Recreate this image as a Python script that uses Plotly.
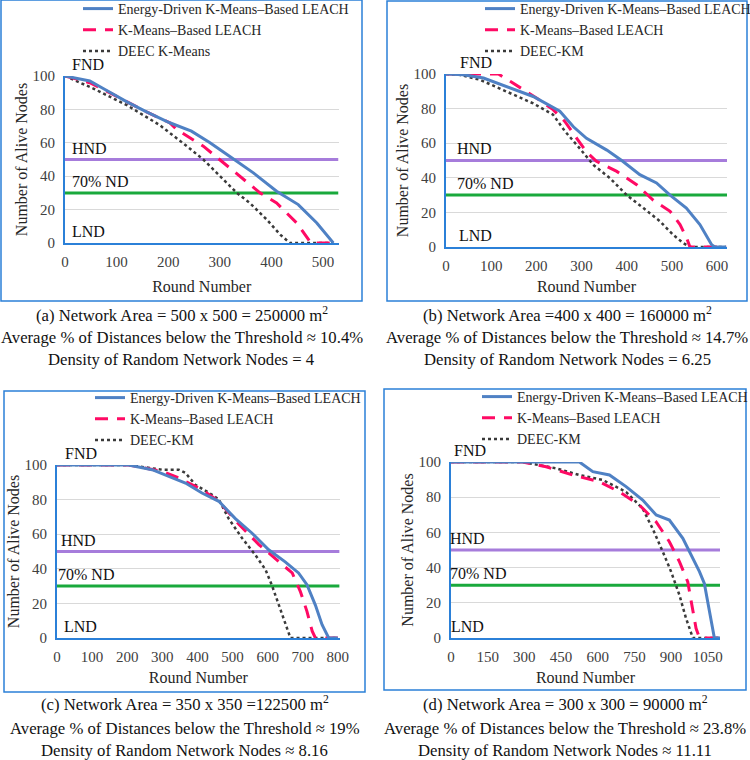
import plotly.graph_objects as go

# ---------------- data ----------------
SERIES_NAMES = ["Energy-Driven K-Means\u2013Based LEACH", "K-Means\u2013Based LEACH"]
DEEC_NAMES = ["DEEC K-Means", "DEEC-KM", "DEEC-KM", "DEEC-KM"]

A_ED_X = [0, 25, 48, 74, 120, 158, 203, 245, 281, 323, 365, 410, 452, 488, 520]
A_ED_Y = [100, 98.5, 97, 92.5, 84.5, 78.5, 72, 67, 60, 51, 42, 31, 23, 12, 0]
A_KM_X = [0, 25, 48, 74, 120, 158, 203, 216, 268, 300, 339, 378, 410, 449, 472, 476, 520]
A_KM_Y = [100, 98, 96, 92, 84.5, 78.5, 72, 68, 58, 50, 40, 30, 24, 12, 2, 0, 0]
A_DE_X = [0, 55, 120, 184, 236, 268, 294, 333, 358, 391, 417, 436, 520]
A_DE_Y = [100, 92.5, 82.5, 70.5, 58, 50, 42, 30, 24, 14, 5, 0, 0]

B_ED_X = [0, 38, 83, 134, 193, 252, 282, 311, 356, 389, 429, 466, 496, 532, 562, 588, 595, 620]
B_ED_Y = [100, 99.6, 97.7, 92.9, 87, 78.5, 69.5, 62.8, 56, 50, 41.8, 37, 30, 22.5, 13, 1.3, 0, 0]
B_KM_X = [0, 116, 142, 201, 237, 263, 289, 311, 333, 378, 422, 459, 496, 518, 533, 540, 620]
B_KM_Y = [100, 100, 95.8, 86, 79.4, 72.6, 63, 55, 49.5, 43.7, 36, 27, 20.6, 13, 5, 0, 0]
B_DE_X = [0, 30, 75, 134, 193, 237, 263, 296, 326, 363, 400, 437, 473, 503, 525, 540, 620]
B_DE_Y = [100, 99.5, 96.7, 90, 83, 76.5, 67, 57, 47.5, 39.8, 30, 22.5, 15, 7, 2.3, 0, 0]

C_ED_X = [0, 204, 271, 309, 366, 413, 461, 508, 555, 603, 650, 688, 712, 736, 755, 774, 800]
C_ED_Y = [100, 100, 97.3, 94.4, 89.6, 83.8, 79, 69, 60.7, 51, 44, 37.6, 30.8, 19, 7.7, 0, 0]
C_KM_X = [0, 204, 299, 347, 413, 461, 518, 575, 631, 670, 693, 712, 727, 736, 800]
C_KM_Y = [100, 100, 96.3, 92.5, 85.7, 79, 65.7, 54, 44.3, 37.6, 27, 15.4, 3.9, 0, 0]
C_DE_X = [0, 204, 299, 347, 366, 394, 442, 461, 489, 527, 565, 594, 613, 632, 651, 665, 800]
C_DE_Y = [100, 100, 97.3, 97.3, 95.4, 88.6, 82.8, 80, 69, 57.8, 48, 39.5, 30, 19.3, 7.7, 0, 0]

D_ED_X = [0, 525, 580, 648, 716, 784, 839, 893, 948, 982, 1016, 1036, 1050, 1064, 1077, 1100]
D_ED_Y = [100, 100, 94.5, 92.6, 86, 78.4, 69.9, 67, 56.6, 47, 37.7, 31, 20.6, 9.3, 0, 0]
D_KM_X = [0, 293, 389, 498, 607, 689, 770, 839, 893, 934, 968, 989, 1002, 1016, 1100]
D_KM_Y = [100, 100, 97.3, 92.6, 88.8, 83, 75.6, 66, 54.7, 43.4, 32, 16.9, 5.5, 0, 0]
D_DE_X = [0, 293, 430, 525, 620, 716, 784, 825, 866, 900, 934, 961, 989, 1100]
D_DE_Y = [100, 100, 96.4, 92.6, 89.8, 83, 73.5, 62, 49, 37.7, 24.4, 11.2, 0, 0]

X_MAX = [530, 622, 805, 1100]
X_TICKS = [[0, 100, 200, 300, 400, 500],
           [0, 100, 200, 300, 400, 500, 600],
           [0, 100, 200, 300, 400, 500, 600, 700, 800],
           [0, 150, 300, 450, 600, 750, 900, 1050]]
Y_TICKS = [0, 20, 40, 60, 80, 100]
HND_LEVEL = 50
ND70_LEVEL = 30

CAPTIONS = [
    ["(a) Network Area = 500 x 500 = 250000 m<sup>2</sup>",
     "Average % of Distances below the Threshold \u2248 10.4%",
     "Density of Random Network Nodes = 4"],
    ["(b) Network Area =400 x 400 = 160000 m<sup>2</sup>",
     "Average % of Distances below the Threshold \u2248 14.7%",
     "Density of Random Network Nodes = 6.25"],
    ["(c) Network Area = 350 x 350 =122500 m<sup>2</sup>",
     "Average % of Distances below the Threshold \u2248 19%",
     "Density of Random Network Nodes \u2248 8.16"],
    ["(d) Network Area = 300 x 300 = 90000 m<sup>2</sup>",
     "Average % of Distances below the Threshold \u2248 23.8%",
     "Density of Random Network Nodes \u2248 11.11"],
]

DATA = [
    [(A_ED_X, A_ED_Y), (A_KM_X, A_KM_Y), (A_DE_X, A_DE_Y)],
    [(B_ED_X, B_ED_Y), (B_KM_X, B_KM_Y), (B_DE_X, B_DE_Y)],
    [(C_ED_X, C_ED_Y), (C_KM_X, C_KM_Y), (C_DE_X, C_DE_Y)],
    [(D_ED_X, D_ED_Y), (D_KM_X, D_KM_Y), (D_DE_X, D_DE_Y)],
]

# ---------------- layout geometry (pixels) ----------------
W, H = 750, 760
PLOT = [(65, 338.5, 76, 243), (446, 727, 74, 247), (57, 339.6, 465, 638), (451, 720, 462, 638)]
BOX = [(1, 0, 362, 301), (387, 1, 747, 301), (4, 391, 365, 692), (384, 389, 746, 690)]
CAP_Y = [(314, 338, 360), (314, 338, 360), (703, 728, 750), (703, 728, 750)]
LEG = [(78, -7), (480, -7), (90, 382), (477, 381)]
X_TITLE_STANDOFF = [12, 8, 8, 8]
LBL_DX = [(5, 5, 5, 5), (12, 9, 9, 11), (6, 2, -1, 5), (1, -3, -3, -2)]

FONT = "Liberation Serif, Times New Roman, serif"
BLUE = "#4F81C4"
RED = "#FF0A64"
DOT = "#3a3a3a"
PURPLE = "#A67CDB"
GREEN = "#19A93C"
AXBLUE = "#2B80D8"

fig = go.Figure()
shapes = []
annotations = []

for i in range(4):
    xa = "x" if i == 0 else f"x{i+1}"
    ya = "y" if i == 0 else f"y{i+1}"
    leg = "legend" if i == 0 else f"legend{i+1}"
    xmax = X_MAX[i]
    fig.add_trace(go.Scatter(x=[0, xmax], y=[HND_LEVEL, HND_LEVEL], mode="lines",
                             line=dict(color=PURPLE, width=3), showlegend=False,
                             hoverinfo="skip", xaxis=xa, yaxis=ya))
    fig.add_trace(go.Scatter(x=[0, xmax], y=[ND70_LEVEL, ND70_LEVEL], mode="lines",
                             line=dict(color=GREEN, width=3), showlegend=False,
                             hoverinfo="skip", xaxis=xa, yaxis=ya))
    (edx, edy), (kmx, kmy), (dex, dey) = DATA[i]
    fig.add_trace(go.Scatter(x=dex, y=dey, mode="lines", name=DEEC_NAMES[i],
                             line=dict(color=DOT, width=2.5, dash="dot"),
                             xaxis=xa, yaxis=ya, legend=leg, legendrank=3))
    fig.add_trace(go.Scatter(x=kmx, y=kmy, mode="lines", name=SERIES_NAMES[1],
                             line=dict(color=RED, width=3, dash="13px,9px"),
                             xaxis=xa, yaxis=ya, legend=leg, legendrank=2))
    fig.add_trace(go.Scatter(x=edx, y=edy, mode="lines", name=SERIES_NAMES[0],
                             line=dict(color=BLUE, width=3),
                             xaxis=xa, yaxis=ya, legend=leg, legendrank=1))

    px0, px1, pyt, pyb = PLOT[i]
    axis_common = dict(showgrid=True, gridcolor="#d9d9d9", gridwidth=1, zeroline=False,
                       showline=True, linecolor=AXBLUE, linewidth=2,
                       tickfont=dict(family=FONT, size=15, color="#404040"),
                       ticks="", automargin=False)
    xkey = "xaxis" if i == 0 else f"xaxis{i+1}"
    ykey = "yaxis" if i == 0 else f"yaxis{i+1}"
    fig.update_layout(**{
        xkey: dict(axis_common, domain=[px0 / W, px1 / W], range=[0, xmax],
                   tickvals=X_TICKS[i], showgrid=False, anchor=ya, ticklabelstandoff=4,
                   title=dict(text="Round Number", font=dict(family=FONT, size=16, color="#262626"),
                              standoff=X_TITLE_STANDOFF[i])),
        ykey: dict(axis_common, domain=[1 - pyb / H, 1 - pyt / H], range=[0, 100],
                   tickvals=Y_TICKS, anchor=xa, ticklabelstandoff=5,
                   title=dict(text="Number of Alive Nodes", font=dict(family=FONT, size=16, color="#262626"),
                              standoff=1)),
        leg: dict(x=LEG[i][0] / W, y=1 - LEG[i][1] / H, xanchor="left", yanchor="top",
                  bgcolor="rgba(0,0,0,0)", font=dict(family=FONT, size=14, color="#262626"),
                  tracegroupgap=0, itemwidth=30),
    })

    dx = LBL_DX[i]
    for txt, lvl, sh in [("FND", 100, dx[0]), ("HND", HND_LEVEL, dx[1]),
                         ("70% ND", ND70_LEVEL, dx[2]), ("LND", 0, dx[3])]:
        annotations.append(dict(text=txt, x=0, y=lvl, xref=f"{xa} domain", yref=ya,
                                xanchor="left", yanchor="bottom", showarrow=False,
                                xshift=sh, yshift=1,
                                font=dict(family=FONT, size=16, color="#111111")))
    bx0, by0, bx1, by1 = BOX[i]
    shapes.append(dict(type="rect", xref="paper", yref="paper",
                       x0=bx0 / W, x1=bx1 / W, y0=1 - by1 / H, y1=1 - by0 / H,
                       line=dict(color=AXBLUE, width=1.5)))
    cx = (bx0 + bx1) / 2 / W
    for line_txt, cy in zip(CAPTIONS[i], CAP_Y[i]):
        annotations.append(dict(text=line_txt, x=cx, y=1 - cy / H, xref="paper", yref="paper",
                                xanchor="center", yanchor="middle", showarrow=False,
                                font=dict(family=FONT, size=16.7, color="#111111")))

fig.update_layout(width=W, height=H,
                  margin=dict(l=0, r=0, t=0, b=0, autoexpand=False),
                  font=dict(family=FONT, color="#262626"),
                  paper_bgcolor="white", plot_bgcolor="white",
                  shapes=shapes, annotations=annotations)

fig.write_html("out.html")
